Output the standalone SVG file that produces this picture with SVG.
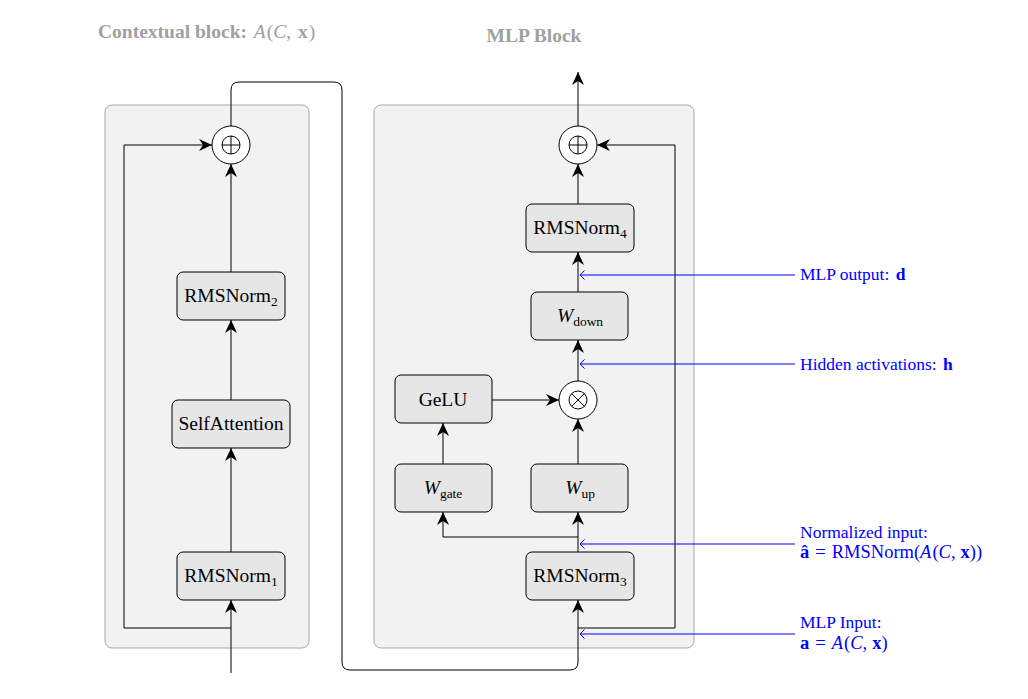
<svg xmlns="http://www.w3.org/2000/svg" width="1028" height="699" viewBox="0 0 1028 699">
<style>
.panel{fill:#f2f2f2;stroke:#a8a8a8;stroke-width:1}
.node{fill:#e6e6e6;stroke:#000;stroke-width:1}
.op{fill:#fff;stroke:#000;stroke-width:1}
.lbl{font-family:"Liberation Serif",serif;font-size:19.5px;fill:#000;text-anchor:middle}
.sub{font-size:13.5px}
.title{font-family:"Liberation Serif",serif;font-size:19.5px;font-weight:bold;fill:#a0a0a0}
.ann{font-family:"Liberation Serif",serif;font-size:17.5px;fill:#0000ff}
.math{font-size:18.5px}
.wire{fill:none;stroke:#000;stroke-width:1}
.blue{fill:none;stroke:#0000ff;stroke-width:1}
.it{font-style:italic}
.bf{font-weight:bold}
</style>
<defs>
<marker id="ah" viewBox="-14 -7 15 14" refX="0" refY="0" markerWidth="15" markerHeight="14" markerUnits="userSpaceOnUse" orient="auto">
<path d="M0,0 L-13,-6 L-9,0 L-13,6 Z" fill="#000"/>
</marker>
<marker id="bh" viewBox="-6 -6 7 12" refX="0" refY="0" markerWidth="7" markerHeight="12" markerUnits="userSpaceOnUse" orient="auto">
<path d="M-4.5,-4.5 L0,0 L-4.5,4.5" fill="none" stroke="#0000ff" stroke-width="1"/>
</marker>
</defs>

<g id="titles">
<text class="title" x="98" y="38">Contextual block: <tspan class="it" font-weight="normal" dx="2">A</tspan><tspan font-weight="normal" dx="1">(</tspan><tspan class="it" font-weight="normal">C</tspan><tspan font-weight="normal">, </tspan><tspan dx="2">x</tspan><tspan font-weight="normal" dx="1">)</tspan></text>
<text class="title" x="534" y="42" text-anchor="middle">MLP Block</text>
</g>

<g id="panel-left"><rect class="panel" x="105" y="105" width="204" height="543" rx="7"/></g>
<g id="panel-right"><rect class="panel" x="374" y="105" width="320" height="543" rx="7"/></g>

<g id="connectors">
<line class="wire" x1="231" y1="673" x2="231" y2="600" marker-end="url(#ah)"/>
<path class="wire" d="M231,628 H124 V145 H212" marker-end="url(#ah)"/>
<line class="wire" x1="231" y1="552" x2="231" y2="448" marker-end="url(#ah)"/>
<line class="wire" x1="231" y1="400" x2="231" y2="320" marker-end="url(#ah)"/>
<line class="wire" x1="231" y1="272" x2="231" y2="164" marker-end="url(#ah)"/>
<path class="wire" d="M231,126 V90 Q231,82 239,82 H334 Q342,82 342,90 V662 Q342,670 350,670 H570 Q578,670 578,662 V600" marker-end="url(#ah)"/>
<path class="wire" d="M578,628 H675 V145 H597" marker-end="url(#ah)"/>
<line class="wire" x1="578" y1="552" x2="578" y2="512" marker-end="url(#ah)"/>
<path class="wire" d="M578,537 H443 V512" marker-end="url(#ah)"/>
<line class="wire" x1="443" y1="464" x2="443" y2="423" marker-end="url(#ah)"/>
<line class="wire" x1="578" y1="464" x2="578" y2="419" marker-end="url(#ah)"/>
<line class="wire" x1="492" y1="400" x2="559" y2="400" marker-end="url(#ah)"/>
<line class="wire" x1="578" y1="381" x2="578" y2="340" marker-end="url(#ah)"/>
<line class="wire" x1="578" y1="292" x2="578" y2="252" marker-end="url(#ah)"/>
<line class="wire" x1="578" y1="204" x2="578" y2="164" marker-end="url(#ah)"/>
<line class="wire" x1="578" y1="126" x2="578" y2="72" marker-end="url(#ah)"/>
</g>

<g id="oplus-left">
<circle class="op" cx="231" cy="145" r="19"/>
<circle cx="231" cy="145" r="9" fill="none" stroke="#000" stroke-width="1"/>
<path d="M222,145 H240 M231,136 V154" stroke="#000" stroke-width="1"/>
</g>
<g id="rmsnorm2"><rect class="node" x="177" y="272" width="108" height="48" rx="6"/>
<text class="lbl" x="231" y="302">RMSNorm<tspan class="sub" dy="4">2</tspan></text></g>
<g id="selfattention"><rect class="node" x="172" y="400" width="118" height="48" rx="6"/>
<text class="lbl" x="231" y="430">SelfAttention</text></g>
<g id="rmsnorm1"><rect class="node" x="177" y="552" width="108" height="48" rx="6"/>
<text class="lbl" x="231" y="582">RMSNorm<tspan class="sub" dy="4">1</tspan></text></g>

<g id="oplus-right">
<circle class="op" cx="578" cy="145" r="19"/>
<circle cx="578" cy="145" r="9" fill="none" stroke="#000" stroke-width="1"/>
<path d="M569,145 H587 M578,136 V154" stroke="#000" stroke-width="1"/>
</g>
<g id="rmsnorm4"><rect class="node" x="526" y="204" width="108" height="48" rx="6"/>
<text class="lbl" x="580" y="234">RMSNorm<tspan class="sub" dy="4">4</tspan></text></g>
<g id="wdown"><rect class="node" x="531" y="292" width="97" height="48" rx="6"/>
<text class="lbl" x="580" y="322"><tspan class="it">W</tspan><tspan class="sub" dy="4">down</tspan></text></g>
<g id="otimes">
<circle class="op" cx="578" cy="400" r="19"/>
<circle cx="578" cy="400" r="9" fill="none" stroke="#000" stroke-width="1"/>
<path d="M571.6,393.6 L584.4,406.4 M584.4,393.6 L571.6,406.4" stroke="#000" stroke-width="1"/>
</g>
<g id="gelu"><rect class="node" x="395" y="375" width="97" height="48" rx="6"/>
<text class="lbl" x="443" y="406">GeLU</text></g>
<g id="wgate"><rect class="node" x="395" y="464" width="97" height="48" rx="6"/>
<text class="lbl" x="443" y="494"><tspan class="it">W</tspan><tspan class="sub" dy="4">gate</tspan></text></g>
<g id="wup"><rect class="node" x="531" y="464" width="97" height="48" rx="6"/>
<text class="lbl" x="580" y="494"><tspan class="it">W</tspan><tspan class="sub" dy="4">up</tspan></text></g>
<g id="rmsnorm3"><rect class="node" x="526" y="552" width="108" height="48" rx="6"/>
<text class="lbl" x="580" y="582">RMSNorm<tspan class="sub" dy="4">3</tspan></text></g>

<g id="annotations">
<line class="blue" x1="795" y1="275" x2="580" y2="275" marker-end="url(#bh)"/>
<line class="blue" x1="795" y1="364" x2="580" y2="364" marker-end="url(#bh)"/>
<line class="blue" x1="795" y1="544" x2="580" y2="544" marker-end="url(#bh)"/>
<line class="blue" x1="795" y1="634" x2="580" y2="634" marker-end="url(#bh)"/>
<text class="ann" x="800" y="280">MLP output: <tspan class="bf" dx="2">d</tspan></text>
<text class="ann" x="800" y="370">Hidden activations: <tspan class="bf" dx="2">h</tspan></text>
<text class="ann" x="800" y="538">Normalized input:</text>
<text class="ann math" x="800" y="558"><tspan class="bf">â</tspan><tspan dx="6">=</tspan><tspan dx="6">RMSNorm(</tspan><tspan class="it">A</tspan><tspan dx="1">(</tspan><tspan class="it">C</tspan>,<tspan class="bf" dx="5">x</tspan>))</text>
<text class="ann" x="800" y="628">MLP Input:</text>
<text class="ann math" x="800" y="649"><tspan class="bf">a</tspan><tspan dx="6">=</tspan><tspan class="it" dx="6">A</tspan><tspan dx="1">(</tspan><tspan class="it">C</tspan>,<tspan class="bf" dx="5">x</tspan>)</text>
</g>
</svg>
